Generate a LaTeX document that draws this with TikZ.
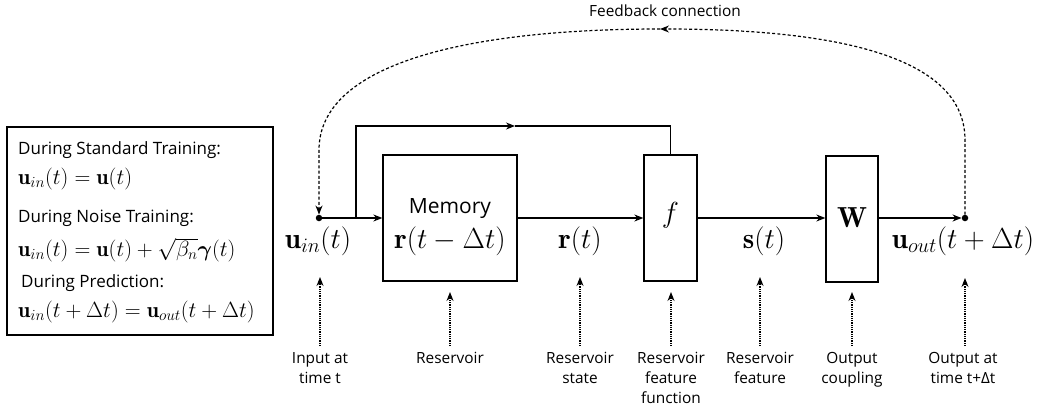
\RequirePackage{fix-cm}
\documentclass[tikz,border=0pt]{standalone}
\usepackage{amsmath}
\usepackage{fontspec}
\newfontfamily\osans{Open Sans}
\newcommand{\ssub}[2]{_{\hbox{\fontsize{#1}{#1}\selectfont$#2$}}}
\usetikzlibrary{arrows.meta,calc}
\begin{document}
\begin{tikzpicture}[x=1pt,y=-1pt,
  blk/.style={draw, line width=1.3pt, inner sep=0},
  main/.style={line width=1.3pt},
  arr/.style={-{Stealth[length=9pt,width=7pt]}},
  fbk/.style={line width=1.2pt, dash pattern=on 3pt off 2.2pt},
  ptr/.style={line width=1.2pt, dash pattern=on 1pt off 0.8pt, -{Stealth[length=9pt,width=7pt]}},
  lbl/.style={font=\osans\fontsize{15.4}{20}\selectfont, align=center, anchor=north, inner sep=0},
  mlbl/.style={font=\fontsize{29}{34}\selectfont, inner sep=0, anchor=base},
  btxt/.style={font=\osans\fontsize{17}{20}\selectfont, anchor=base west, inner sep=0},
  bmath/.style={font=\fontsize{22}{26}\selectfont, anchor=base west, inner sep=0},
  dot/.style={circle, fill, inner sep=0, minimum size=6.5pt}
]
\useasboundingbox (0,0) rectangle (1045,413);

% legend box
\node[draw, line width=1.3pt, minimum width=266pt, minimum height=208pt, inner sep=0] (legend) at (140,231) {};
\node[btxt] (s1) at (18,154) {During Standard Training:};
\node[bmath] (m1) at (18,184) {$\mathbf{u}\ssub{15.4}{in}(t) = \mathbf{u}(t)$};
\node[btxt] (s2) at (18,222) {During Noise Training:};
\node[bmath] (m2) at (18,256) {$\mathbf{u}\ssub{15.4}{in}(t) = \mathbf{u}(t) + \sqrt{\beta\ssub{15.4}{n}}\boldsymbol{\gamma}(t)$};
\node[btxt] (s3) at (21,287) {During Prediction:};
\node[bmath] (m3) at (18,317) {$\mathbf{u}\ssub{15.4}{in}(t+\Delta t) = \mathbf{u}\ssub{15.4}{out}(t+\Delta t)$};

% blocks
\node[blk, minimum width=134pt, minimum height=126pt] (mem) at (450,218) {};
\node[blk, minimum width=53pt, minimum height=126pt] (f) at (670.5,218) {};
\node[blk, minimum width=52pt, minimum height=126pt] (W) at (852,219) {};

\node[font=\osans\fontsize{21}{24}\selectfont, inner sep=0, anchor=base] (memt) at (450,213) {Memory};
\node[mlbl] (memr) at (450,248) {$\mathbf{r}(t-\Delta t)$};
\node[font=\fontsize{29}{34}\selectfont, inner sep=0] (ft) at (670.5,215) {$f$};
\node[font=\fontsize{29}{34}\selectfont, inner sep=0] (Wt) at (852,218) {$\mathbf{W}$};

% signal labels
\node[mlbl] (uin) at (318,248) {$\mathbf{u}\ssub{20.5}{in}(t)$};
\node[mlbl] (rt) at (580,248) {$\mathbf{r}(t)$};
\node[mlbl] (st) at (764,248) {$\mathbf{s}(t)$};
\node[mlbl] (uout) at (963,248) {$\mathbf{u}\ssub{20.5}{out}(t+\Delta t)$};

% dots
\node[dot] (in) at (319,218) {};
\node[dot] (out) at (965,218) {};

% main path
\draw[main,arr] (in) -- (mem.west);
\draw[main,arr] (mem.east) -- (f.west);
\draw[main,arr] (f.east) -- (W.west |- f.east);
\draw[main,arr] (W.east |- f.east) -- (out);

% bypass loop
\coordinate (br) at (356,218);
\coordinate (tm) at (515,126);
\draw[main,arr] (br) |- (tm);
\draw[main] (tm) -| (f.north);

% feedback connection
\coordinate (fbm) at (660,29);
\draw[fbk,arr] (out) -- (965,140) .. controls (965,72) and (880,29) .. (fbm);
\draw[fbk,arr] (fbm) .. controls (460,29) and (319,66) .. (319,150) -- (in);
\node[font=\osans\fontsize{15.4}{18}\selectfont, inner sep=0] (fbl) at (665,11) {Feedback connection};

% bottom labels
\node[lbl] (l1) at (320,352) {Input at\\time t};
\node[lbl] (l2) at (450,352) {Reservoir};
\node[lbl] (l3) at (580,352) {Reservoir\\state};
\node[lbl] (l4) at (671,352) {Reservoir\\feature\\function};
\node[lbl] (l5) at (760,352) {Reservoir\\feature};
\node[lbl] (l6) at (852,352) {Output\\coupling};
\node[lbl] (l7) at (963,352) {Output at\\time t+Δt};

\coordinate (t1) at (320,277);
\coordinate (t2) at (450,292);
\coordinate (t3) at (580,277);
\coordinate (t4) at (671,292);
\coordinate (t5) at (760,277);
\coordinate (t6) at (852,292);
\coordinate (t7) at (965,278);

\draw[ptr] ([yshift=6pt]l1.north) -- (t1);
\draw[ptr] ([yshift=6pt]l2.north) -- (t2);
\draw[ptr] ([yshift=6pt]l3.north) -- (t3);
\draw[ptr] ([yshift=6pt]l4.north) -- (t4);
\draw[ptr] ([yshift=6pt]l5.north) -- (t5);
\draw[ptr] ([yshift=6pt]l6.north) -- (t6);
\draw[ptr] ([xshift=2pt,yshift=6pt]l7.north) -- (t7);
\end{tikzpicture}
\end{document}
